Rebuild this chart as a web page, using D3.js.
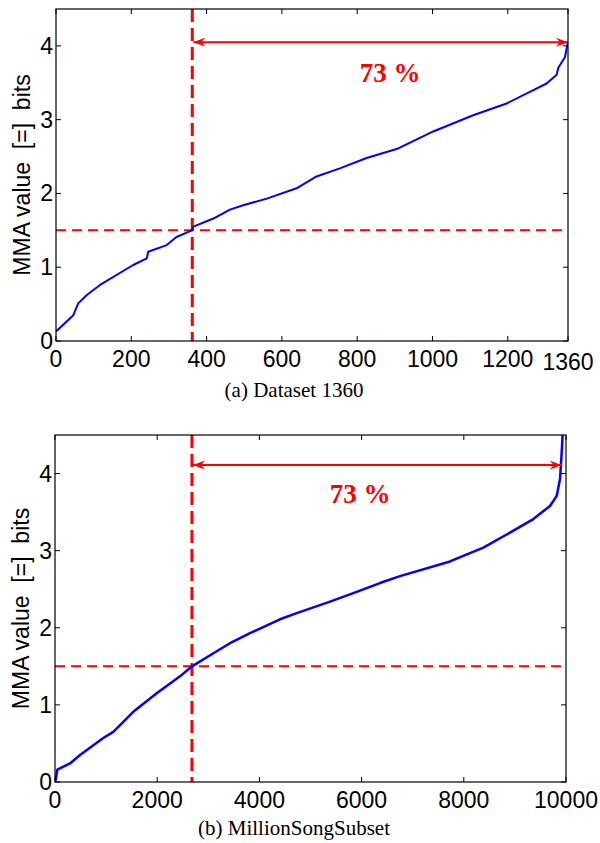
<!DOCTYPE html>
<html>
<head>
<meta charset="utf-8">
<script src="https://cdn.jsdelivr.net/npm/d3@7"></script>
<style>
  body { margin: 0; background: #fff; }
  svg { display: block; }
</style>
</head>
<body>
<svg id="chart" width="600" height="843"></svg>
<script>
// (a) Dataset 1360 - sorted MMA values
const idxA = [0, 46, 59, 81, 117, 205, 241, 245, 294, 320, 361, 365, 418, 462, 497, 560, 639, 692, 754, 825, 909, 1002, 1108, 1197, 1268, 1303, 1330, 1334, 1352, 1360];
const mmaA = [0.13, 0.35, 0.51, 0.62, 0.76, 1.03, 1.12, 1.21, 1.30, 1.41, 1.50, 1.55, 1.66, 1.78, 1.84, 1.93, 2.07, 2.23, 2.34, 2.48, 2.61, 2.84, 3.06, 3.22, 3.40, 3.49, 3.61, 3.70, 3.85, 4.06];
const xTicksA = [0, 200, 400, 600, 800, 1000, 1200, 1360];

// (b) MillionSongSubset - sorted MMA values
const idxB = [0, 20, 45, 294, 489, 945, 1141, 1532, 1990, 2446, 2681, 3100, 3425, 3816, 4403, 4730, 5382, 5838, 6360, 6751, 7730, 8382, 8839, 9360, 9687, 9818, 9883, 9915, 9935, 9950];
const mmaB = [0.0, 0.05, 0.16, 0.24, 0.35, 0.57, 0.65, 0.91, 1.15, 1.37, 1.50, 1.67, 1.80, 1.93, 2.11, 2.19, 2.34, 2.45, 2.58, 2.67, 2.86, 3.04, 3.21, 3.41, 3.58, 3.71, 3.93, 4.27, 4.51, 4.8];
const xTicksB = [0, 2000, 4000, 6000, 8000, 10000];

const yTicks = [0, 1, 2, 3, 4];
const threshold = 1.5;

const svg = d3.select('#chart');

svg.append('defs').append('marker')
  .attr('id', 'head')
  .attr('viewBox', '-12 -5 13 10')
  .attr('refX', 0)
  .attr('refY', 0)
  .attr('markerUnits', 'userSpaceOnUse')
  .attr('markerWidth', 13)
  .attr('markerHeight', 10)
  .attr('orient', 'auto-start-reverse')
  .append('path')
  .attr('d', 'M0,0 L-12,-4.5 L-8,0 L-12,4.5 Z')
  .attr('fill', '#f00');

function drawPanel(p) {
  const x = d3.scaleLinear().domain(p.xDomain).range([p.left, p.right]);
  const y = d3.scaleLinear().domain([0, 4.5]).range([p.bottom, p.top]);
  const g = svg.append('g');

  g.append('clipPath').attr('id', p.id + 'clip')
    .append('rect')
    .attr('x', p.left).attr('y', p.top)
    .attr('width', p.right - p.left).attr('height', p.bottom - p.top);

  // threshold lines
  g.append('line')
    .attr('x1', p.left).attr('x2', p.right)
    .attr('y1', y(threshold)).attr('y2', y(threshold))
    .attr('stroke', '#f00').attr('stroke-width', 2)
    .attr('stroke-dasharray', '10,6');
  g.append('line')
    .attr('x1', x(p.cut)).attr('x2', x(p.cut))
    .attr('y1', p.top).attr('y2', p.bottom)
    .attr('stroke', '#f00').attr('stroke-width', 3)
    .attr('stroke-dasharray', '13,6');

  // curve
  const pts = p.idx.map((v, i) => [v, p.mma[i]]);
  g.append('path')
    .datum(pts)
    .attr('clip-path', `url(#${p.id}clip)`)
    .attr('fill', 'none')
    .attr('stroke', '#00f')
    .attr('stroke-width', p.lw)
    .attr('stroke-linejoin', 'round')
    .attr('d', d3.line().x(d => x(d[0])).y(d => y(d[1])));

  // arrow
  g.append('line')
    .attr('x1', x(p.cut) + 1).attr('x2', x(p.arrowEnd))
    .attr('y1', y(p.arrowY)).attr('y2', y(p.arrowY))
    .attr('stroke', '#f00').attr('stroke-width', 2)
    .attr('marker-start', 'url(#head)')
    .attr('marker-end', 'url(#head)');

  g.append('text')
    .attr('x', p.labelX).attr('y', p.labelY)
    .attr('text-anchor', 'middle')
    .style('font-family', '"Liberation Serif", "Times New Roman", serif')
    .style('font-weight', 'bold')
    .style('font-size', '27px')
    .attr('fill', '#f00')
    .text('73 %');

  // box with inward ticks
  g.append('rect')
    .attr('x', p.left).attr('y', p.top)
    .attr('width', p.right - p.left).attr('height', p.bottom - p.top)
    .attr('fill', 'none').attr('stroke', '#000').attr('stroke-width', 1.2);

  const tl = 5;
  p.xTicks.forEach(t => {
    g.append('line').attr('x1', x(t)).attr('x2', x(t))
      .attr('y1', p.bottom).attr('y2', p.bottom - tl).attr('stroke', '#000');
    g.append('line').attr('x1', x(t)).attr('x2', x(t))
      .attr('y1', p.top).attr('y2', p.top + tl).attr('stroke', '#000');
    g.append('text')
      .attr('x', x(t)).attr('y', p.bottom + 26 + (t === 1360 ? 3 : 0))
      .attr('text-anchor', 'middle')
      .style('font-family', '"Liberation Sans", Arial, sans-serif')
      .style('font-size', '23px')
      .text(t);
  });
  yTicks.forEach(t => {
    g.append('line').attr('x1', p.left).attr('x2', p.left + tl)
      .attr('y1', y(t)).attr('y2', y(t)).attr('stroke', '#000');
    g.append('line').attr('x1', p.right).attr('x2', p.right - tl)
      .attr('y1', y(t)).attr('y2', y(t)).attr('stroke', '#000');
    g.append('text')
      .attr('x', p.left - 3).attr('y', y(t) + 8)
      .attr('text-anchor', 'end')
      .style('font-family', '"Liberation Sans", Arial, sans-serif')
      .style('font-size', '23px')
      .text(t);
  });

  g.append('text')
    .attr('transform', `translate(${p.left - 26},${(p.top + p.bottom) / 2}) rotate(-90)`)
    .attr('text-anchor', 'middle')
    .style('font-family', '"Liberation Sans", Arial, sans-serif')
    .style('font-size', '23px')
    .style('white-space', 'pre')
    .text('MMA value  [=]  bits');

  g.append('text')
    .attr('x', 294).attr('y', p.captionY)
    .attr('text-anchor', 'middle')
    .style('font-family', '"Liberation Serif", "Times New Roman", serif')
    .style('font-size', '21px')
    .text(p.caption);
}

drawPanel({
  id: 'a', idx: idxA, mma: mmaA, xDomain: [0, 1360], xTicks: xTicksA,
  left: 56, right: 568, top: 9, bottom: 341, lw: 2,
  cut: 362, arrowEnd: 1360, arrowY: 4.05,
  labelX: 390, labelY: 82, captionY: 397, caption: '(a) Dataset 1360'
});

drawPanel({
  id: 'b', idx: idxB, mma: mmaB, xDomain: [0, 10000], xTicks: xTicksB,
  left: 55, right: 566, top: 435, bottom: 782, lw: 2.5,
  cut: 2680, arrowEnd: 9915, arrowY: 4.11,
  labelX: 360, labelY: 503, captionY: 835, caption: '(b) MillionSongSubset'
});
</script>
</body>
</html>
